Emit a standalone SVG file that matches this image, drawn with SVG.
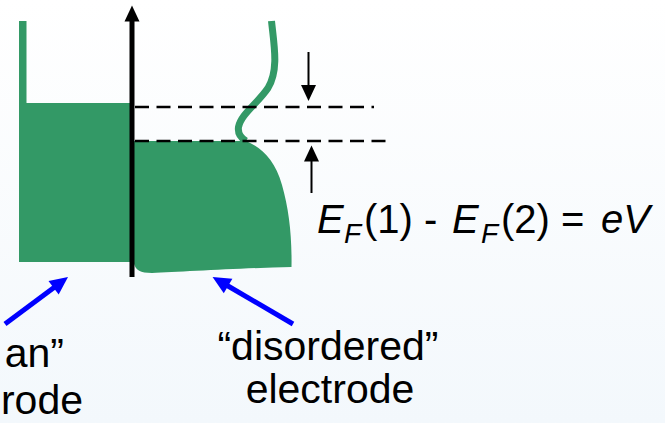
<svg xmlns="http://www.w3.org/2000/svg" width="665" height="423" viewBox="0 0 665 423">
  <style>
    .green { fill: #339966; }
    .wave { fill: none; stroke: #339966; stroke-width: 7; }
    .dash { stroke: #000; stroke-width: 2.5; stroke-dasharray: 14 7.5; fill: none; }
    .blk { stroke: #000; fill: none; }
    .blue { stroke: #0000ff; stroke-width: 5; fill: none; }
    .lbl { font-family: "Liberation Sans", Arial, sans-serif; font-size: 41px; fill: #000; }
    .eq { font-family: "Liberation Sans", Arial, sans-serif; font-size: 40px; fill: #000; }
    .it { font-style: italic; }
  </style>
  <defs>
    <linearGradient id="bg" x1="0" y1="0" x2="0" y2="1">
      <stop offset="0" stop-color="#ffffff"/>
      <stop offset="1" stop-color="#f3f8fc"/>
    </linearGradient>
    <marker id="ahBlack" viewBox="-17 -8 18 16" refX="-12" refY="0" markerWidth="18" markerHeight="16" markerUnits="userSpaceOnUse" orient="auto">
      <path d="M0,0 L-16,-7.5 L-16,7.5 Z" fill="#000"/>
    </marker>
    <marker id="ahBlue" viewBox="-19 -9 20 18" refX="-12" refY="0" markerWidth="20" markerHeight="18" markerUnits="userSpaceOnUse" orient="auto">
      <path d="M0,0 L-18,-8.5 L-18,8.5 Z" fill="#0000ff"/>
    </marker>
  </defs>
  <rect x="0" y="0" width="665" height="423" fill="url(#bg)"/>

  <g id="clean-electrode">
    <rect class="green" x="19" y="21" width="7.5" height="83"/>
    <rect class="green" x="19" y="103" width="112" height="159"/>
  </g>

  <g id="disordered-electrode">
    <path class="green" d="M132 141 L246 141 C262 148 275 160 282 185 C289 210 292 235 291.5 267 C240 268 180 272 152 273 C140 273 136 270 134 264 Z"/>
    <path class="wave" d="M271.5 21 C274 45 279 70 268 88 C258 103 241 114 238.5 127 C237.5 134 241 138 246 141"/>
  </g>

  <g id="connectors">
    <line class="dash" x1="135" y1="107" x2="374" y2="107"/>
    <line class="dash" x1="135" y1="141" x2="390" y2="141"/>
    <line class="blk" stroke-width="5" x1="132" y1="277" x2="132" y2="17.5" marker-end="url(#ahBlack)"/>
    <line class="blk" stroke-width="2" x1="308.5" y1="52" x2="308.5" y2="89" marker-end="url(#ahBlack)"/>
    <line class="blk" stroke-width="2" x1="311.5" y1="193" x2="311.5" y2="157.5" marker-end="url(#ahBlack)"/>
    <line class="blue" x1="5" y1="324" x2="58.4" y2="284.2" marker-end="url(#ahBlue)"/>
    <line class="blue" x1="293" y1="324" x2="222.9" y2="283" marker-end="url(#ahBlue)"/>
  </g>

  <g id="equation">
    <text class="eq" y="232.7"><tspan class="it" x="317">E</tspan><tspan class="it" x="344" dy="10" font-size="28">F</tspan><tspan x="364" dy="-10">(1) - </tspan><tspan class="it" x="452">E</tspan><tspan class="it" x="481" dy="10" font-size="28">F</tspan><tspan x="501" dy="-10">(2) = </tspan><tspan class="it" x="601">eV</tspan></text>
  </g>

  <g id="label-clean">
    <text class="lbl" x="64" y="366.7" text-anchor="end" font-size="40">an”</text>
    <text class="lbl" x="83" y="414" text-anchor="end" font-size="40">rode</text>
  </g>

  <g id="label-disordered">
    <text class="lbl" x="328" y="360" text-anchor="middle">“disordered”</text>
    <text class="lbl" x="330" y="403" text-anchor="middle">electrode</text>
  </g>
</svg>
